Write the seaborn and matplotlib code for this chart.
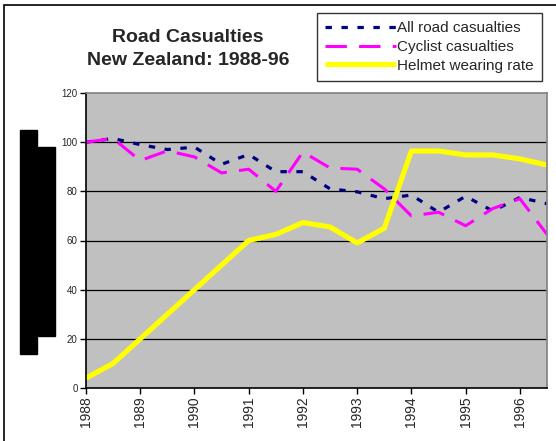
import matplotlib
matplotlib.use("Agg")
import matplotlib.pyplot as plt
import numpy as np
import pandas as pd
import seaborn as sns
from matplotlib.patches import Rectangle

sns.set_style("white")
plt.rcParams['font.family'] = ['Liberation Sans', 'DejaVu Sans']

# half-year points, 1988 to 1996.5
years = [1988 + 0.5 * i for i in range(18)]
all_road = [100, 101.5, 99, 97, 98, 91, 95, 88, 88, 81, 79.8, 77, 78.5, 71.5, 78, 72, 77.5, 75]
cyclist = [100, 101.5, 92.5, 96.5, 94, 87.5, 89, 80, 96, 89.5, 89, 81, 70, 71.5, 66, 73, 77, 62.5]
helmet = [4, 10, 20, 30, 40, 50, 60, 62.5, 67.3, 65.5, 59, 65, 96.4, 96.4, 94.8, 94.8, 93.2, 90.7]
tick_years = list(range(1988, 1997))
y_ticks = [0, 20, 40, 60, 80, 100, 120]

df = pd.DataFrame({
    'year': years * 3,
    'value': all_road + cyclist + helmet,
    'series': ['All road casualties'] * 18 + ['Cyclist casualties'] * 18 + ['Helmet wearing rate'] * 18,
})

fig = plt.figure(figsize=(5.56, 4.41), dpi=100)
ax = fig.add_axes([86 / 556, 1 - 388 / 441, (547 - 86) / 556, (388 - 93) / 441])
ax.set_facecolor('#c0c0c0')

styles = {
    'All road casualties': dict(color='#000080', lw=2.3, dashes=(2, 3)),
    'Cyclist casualties': dict(color='#ff00ff', lw=2.2, dashes=(7, 4)),
    'Helmet wearing rate': dict(color='#ffff00', lw=3.7),
}
for name, sub in df.groupby('series', sort=False):
    st = styles[name]
    sns.lineplot(data=sub, x='year', y='value', ax=ax, color=st['color'],
                 linewidth=st['lw'], label=name, solid_capstyle='butt')
    if 'dashes' in st:
        ax.lines[-1].set_dashes(st['dashes'])
        ax.lines[-1].set_dash_capstyle('butt')

ax.set_xlim(1988, 1996.5)
ax.set_ylim(0, 120)
ax.set_xticks(tick_years)
ax.set_xticklabels([str(y) for y in tick_years], rotation=90, fontsize=10)
ax.set_yticks(y_ticks)
ax.set_yticklabels([str(y) for y in y_ticks], fontsize=7)
for y in y_ticks[1:-1]:
    ax.axhline(y, color='black', lw=0.9, zorder=0.5)
ax.tick_params(axis='both', direction='out', length=4, width=1, color='black', pad=2, left=True, bottom=True)
ax.set_xlabel('')
ax.set_ylabel('')
for s in ['left', 'bottom']:
    ax.spines[s].set_color('black')
    ax.spines[s].set_linewidth(1.2)
for s in ['top', 'right']:
    ax.spines[s].set_color('#808080')
    ax.spines[s].set_linewidth(1.2)

leg = ax.legend(loc='upper left', bbox_to_anchor=(317 / 556, 1 - 13 / 441), bbox_transform=fig.transFigure,
                frameon=True, fancybox=False, fontsize=11, handlelength=4.6, handletextpad=0.1,
                borderpad=0.55, labelspacing=0.3, borderaxespad=0)
leg.get_frame().set_edgecolor('black')
leg.get_frame().set_linewidth(1)
for h in leg.get_lines():
    h.set_dash_capstyle('butt')

fig.text(188 / 556, 1 - 49 / 441, 'Road Casualties\nNew Zealand: 1988-96', ha='center', va='center',
         fontsize=14, fontweight='bold', linespacing=1.4)

# chart border and blacked-out blocks at left
fig.patches.append(Rectangle((4 / 556, -0.1), 1.2, 1.1 - 5 / 441, transform=fig.transFigure,
                             fill=False, edgecolor='black', lw=1.2))
fig.patches.append(Rectangle((20 / 556, 1 - 354 / 441), 17 / 556, 224 / 441, transform=fig.transFigure,
                             color='black'))
fig.patches.append(Rectangle((38 / 556, 1 - 336 / 441), 17 / 556, 189 / 441, transform=fig.transFigure,
                             color='black'))

fig.savefig('out.png', dpi=100)
